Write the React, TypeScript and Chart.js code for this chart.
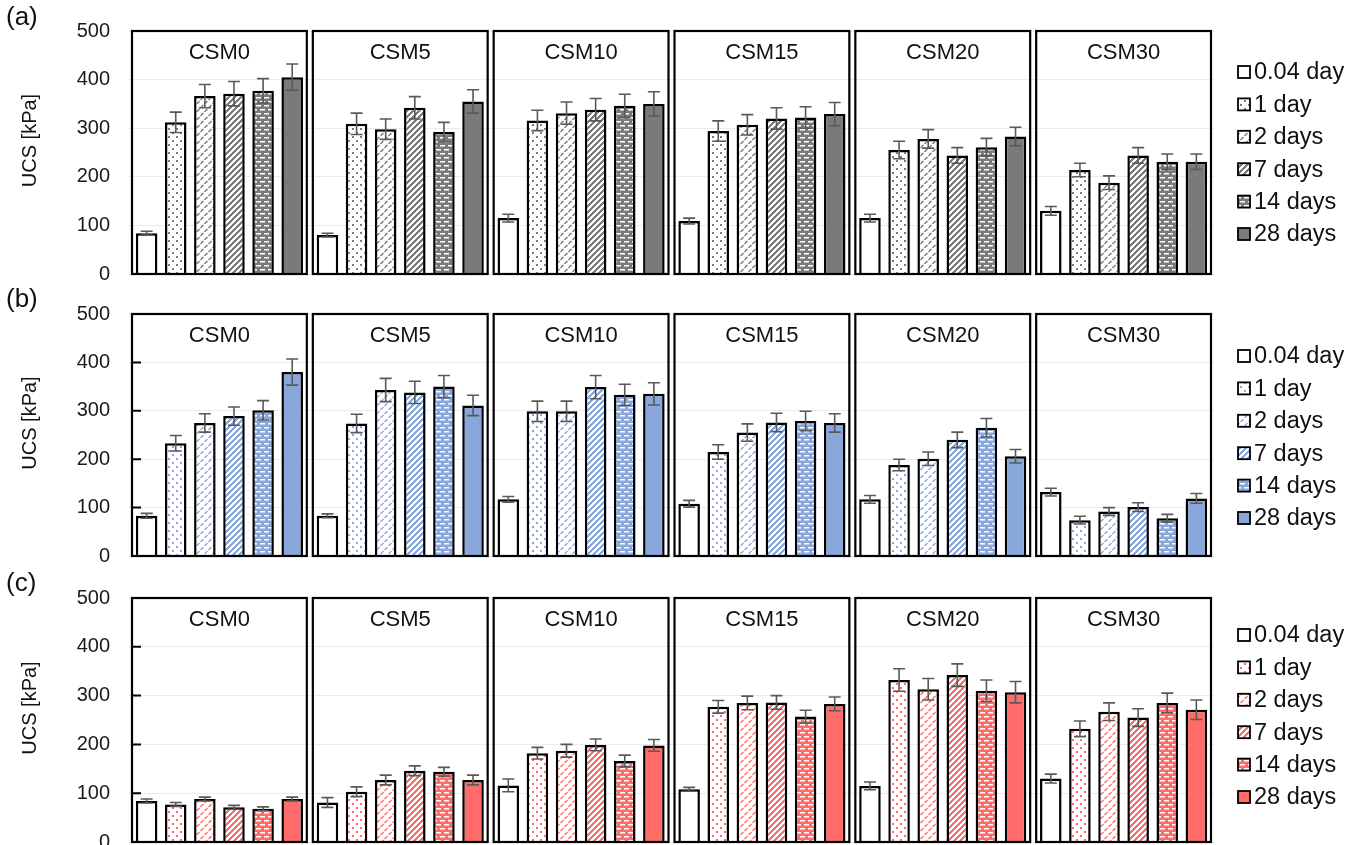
import React, { useEffect, useRef } from "react";
import { Chart, registerables } from "chart.js";

Chart.register(...registerables);

// ---------- data ----------
const groups = ["CSM0", "CSM5", "CSM10", "CSM15", "CSM20", "CSM30"];
const curingLabels = ["0.04 day", "1 day", "2 days", "7 days", "14 days", "28 days"];
const yTickValues = [0, 100, 200, 300, 400, 500];
const rowTags = ["(a)", "(b)", "(c)"];

// rows are curing times, columns follow `groups`
const ucsA = [
  [84, 80, 115, 109, 115, 130],
  [312, 309, 316, 294, 255, 214],
  [366, 298, 331, 307, 278, 188],
  [371, 342, 338, 320, 244, 244],
  [377, 292, 346, 322, 261, 231],
  [405, 355, 350, 329, 283, 231],
];
const errA = [
  [4, 4, 8, 6, 8, 9],
  [21, 22, 21, 21, 18, 14],
  [24, 21, 23, 21, 19, 14],
  [25, 23, 23, 22, 16, 16],
  [25, 20, 24, 22, 18, 16],
  [27, 24, 25, 24, 19, 16],
];
const ucsB = [
  [83, 83, 117, 108, 117, 132],
  [233, 274, 299, 215, 188, 74],
  [275, 343, 299, 255, 201, 92],
  [289, 338, 349, 276, 240, 101],
  [301, 350, 333, 279, 265, 78],
  [380, 311, 335, 275, 206, 119],
];
const errB = [
  [5, 4, 6, 7, 8, 8],
  [16, 19, 21, 15, 12, 8],
  [19, 24, 21, 18, 14, 8],
  [19, 23, 24, 19, 16, 9],
  [20, 23, 22, 20, 19, 8],
  [27, 21, 23, 19, 14, 10],
];
const ucsC = [
  [84, 81, 116, 108, 115, 130],
  [77, 103, 182, 277, 332, 232],
  [88, 127, 187, 285, 313, 267],
  [71, 146, 199, 286, 342, 255],
  [68, 144, 166, 257, 310, 285],
  [88, 127, 198, 283, 307, 271],
];
const errC = [
  [4, 10, 13, 4, 8, 9],
  [4, 10, 12, 13, 23, 16],
  [4, 10, 13, 14, 22, 18],
  [4, 10, 12, 14, 23, 18],
  [4, 9, 12, 13, 22, 20],
  [4, 10, 12, 14, 22, 20],
];

const rowColors = ["#7a7a7a", "#8aa7dc", "#ff6c69"];
const patternKinds = ["white", "dots", "dashDiag", "wideDiag", "dashH", "solid"];

const FONT = '"Liberation Sans", Arial, sans-serif';

function makePattern(kind: string, color: string): any {
  if (kind === "white") return "#ffffff";
  if (kind === "solid") return color;
  const size = kind === "wideDiag" ? 6 : 8;
  const c = document.createElement("canvas");
  c.width = size;
  c.height = size;
  const ctx = c.getContext("2d")!;
  const px = (x: number, y: number, w = 1, h = 1) => ctx.fillRect(x, y, w, h);
  if (kind === "dashH") {
    ctx.fillStyle = color;
    ctx.fillRect(0, 0, size, size);
    ctx.fillStyle = "#ffffff";
    ctx.fillRect(0, 1, 5, 1.5);
    ctx.fillRect(4, 5, 5, 1.5);
    ctx.fillRect(-4, 5, 5, 1.5);
  } else {
    ctx.fillStyle = "#ffffff";
    ctx.fillRect(0, 0, size, size);
    ctx.fillStyle = color;
    if (kind === "dots") {
      px(0, 0, 2, 2);
      px(4, 4, 2, 2);
    } else if (kind === "dashDiag") {
      ctx.strokeStyle = color;
      ctx.lineWidth = 1.4;
      ctx.beginPath();
      ctx.moveTo(0.5, 4);
      ctx.lineTo(3.5, 1);
      ctx.moveTo(4.5, 8);
      ctx.lineTo(7.5, 5);
      ctx.stroke();
    } else if (kind === "wideDiag") {
      for (let x = 0; x < size; x++)
        for (let y = 0; y < size; y++) if ((x + y) % 6 < 3) px(x, y);
    }
  }
  const pctx = document.createElement("canvas").getContext("2d")!;
  return pctx.createPattern(c, "repeat");
}

interface RowProps {
  index: number;
  top: number;
  height: number;
  padTop: number;
  padBottom: number;
  values: number[][];
  errors: number[][];
  color: string;
  tagY: number;
  legendY: number;
  innerTicks: boolean;
}

function RowChart(p: RowProps) {
  const ref = useRef<HTMLCanvasElement>(null);
  useEffect(() => {
    const canvas = ref.current!;
    const fills = patternKinds.map((k) => makePattern(k, p.color));

    const panelPlugin = {
      id: "panels" + p.index,
      afterDatasetsDraw(chart: any) {
        const ctx = chart.ctx;
        const xs = chart.scales.x;
        const ys = chart.scales.y;
        const area = chart.chartArea;
        const catW = (area.right - area.left) / groups.length;
        // error bars
        ctx.save();
        ctx.strokeStyle = "#595959";
        ctx.lineWidth = 1.6;
        chart.data.datasets.forEach((_ds: any, di: number) => {
          const meta = chart.getDatasetMeta(di);
          meta.data.forEach((el: any, i: number) => {
            const v = p.values[di][i];
            const e = p.errors[di][i];
            const x = el.x;
            const y1 = ys.getPixelForValue(v + e);
            const y2 = ys.getPixelForValue(v - e);
            ctx.beginPath();
            ctx.moveTo(x, y1);
            ctx.lineTo(x, y2);
            ctx.moveTo(x - 6, y1);
            ctx.lineTo(x + 6, y1);
            ctx.moveTo(x - 6, y2);
            ctx.lineTo(x + 6, y2);
            ctx.stroke();
          });
        });
        ctx.restore();
        // panel boxes + titles
        ctx.save();
        groups.forEach((g, i) => {
          const cx = xs.getPixelForValue(i);
          const l = cx - catW / 2 + 3;
          const r = cx + catW / 2 - 3;
          ctx.strokeStyle = "#000";
          ctx.lineWidth = 2.2;
          ctx.strokeRect(l, area.top, r - l, area.bottom - area.top);
          ctx.fillStyle = "#111";
          ctx.font = "22px " + FONT;
          ctx.textAlign = "center";
          ctx.textBaseline = "middle";
          ctx.fillText(g, cx, area.top + 22);
          if (p.innerTicks && i === 0) {
            ctx.beginPath();
            ctx.lineWidth = 2;
            [100, 200, 300, 400].forEach((t) => {
              const y = ys.getPixelForValue(t);
              ctx.moveTo(l, y);
              ctx.lineTo(l + 9, y);
            });
            ctx.stroke();
          }
        });
        ctx.restore();
      },
      afterDraw(chart: any) {
        const ctx = chart.ctx;
        const area = chart.chartArea;
        ctx.save();
        // row tag
        ctx.fillStyle = "#111";
        ctx.font = "26px " + FONT;
        ctx.textAlign = "left";
        ctx.textBaseline = "middle";
        ctx.fillText(rowTags[p.index], 6, p.tagY);
        // y title
        ctx.save();
        ctx.translate(30, (area.top + area.bottom) / 2 - 12);
        ctx.rotate(-Math.PI / 2);
        ctx.font = "20px " + FONT;
        ctx.textAlign = "center";
        ctx.fillText("UCS [kPa]", 0, 0);
        ctx.restore();
        // legend
        curingLabels.forEach((lab, i) => {
          const y = p.legendY + i * 32.4;
          ctx.fillStyle = fills[i];
          ctx.fillRect(1238, y - 6, 12, 12);
          ctx.strokeStyle = "#000";
          ctx.lineWidth = 1.8;
          ctx.strokeRect(1238, y - 6, 12, 12);
          ctx.fillStyle = "#111";
          ctx.font = "23.5px " + FONT;
          ctx.textAlign = "left";
          ctx.textBaseline = "middle";
          ctx.fillText(lab, 1254, y + 1);
        });
        ctx.restore();
      },
    };

    const chart = new Chart(canvas, {
      type: "bar",
      data: {
        labels: groups,
        datasets: curingLabels.map((lab, i) => ({
          label: lab,
          data: p.values[i],
          backgroundColor: fills[i],
          borderColor: "#000",
          borderWidth: 2.5,
          borderSkipped: "start",
          categoryPercentage: 0.966,
          barPercentage: 0.74,
        })),
      },
      options: {
        responsive: false,
        animation: false,
        events: [],
        layout: { padding: { left: 0, right: 155, top: p.padTop, bottom: p.padBottom } },
        plugins: {
          legend: { display: false },
          tooltip: { enabled: false },
          title: { display: false },
        },
        scales: {
          x: { display: false, grid: { display: false } },
          y: {
            min: 0,
            max: 500,
            afterBuildTicks: (s: any) => {
              s.ticks = yTickValues.map((v) => ({ value: v }));
            },
            afterFit: (s: any) => {
              s.width = 129;
              s.paddingTop = 0;
              s.paddingBottom = 0;
            },
            ticks: {
              font: { family: FONT, size: 20 },
              color: "#1a1a1a",
              padding: 19,
            },
            grid: { color: "#ebebeb", lineWidth: 1, drawTicks: false },
            border: { display: false },
          },
        },
      } as any,
      plugins: [panelPlugin as any],
    });
    return () => chart.destroy();
  }, []);
  return (
    <canvas
      ref={ref}
      width={1369}
      height={p.height}
      style={{ position: "absolute", left: 0, top: p.top, width: 1369, height: p.height, display: "block" }}
    />
  );
}

export default function App() {
  return (
    <div
      style={{
        position: "absolute",
        left: 0,
        top: 0,
        width: 1369,
        height: 845,
        background: "#ffffff",
        overflow: "hidden",
      }}
    >
      <RowChart index={0} top={0} height={282} padTop={31} padBottom={8} values={ucsA} errors={errA} color={rowColors[0]} tagY={18} legendY={72} innerTicks={false} />
      <RowChart index={1} top={282} height={282} padTop={32} padBottom={8} values={ucsB} errors={errB} color={rowColors[1]} tagY={18} legendY={74} innerTicks={true} />
      <RowChart index={2} top={563} height={282} padTop={35} padBottom={3} values={ucsC} errors={errC} color={rowColors[2]} tagY={21} legendY={72} innerTicks={true} />
    </div>
  );
}
